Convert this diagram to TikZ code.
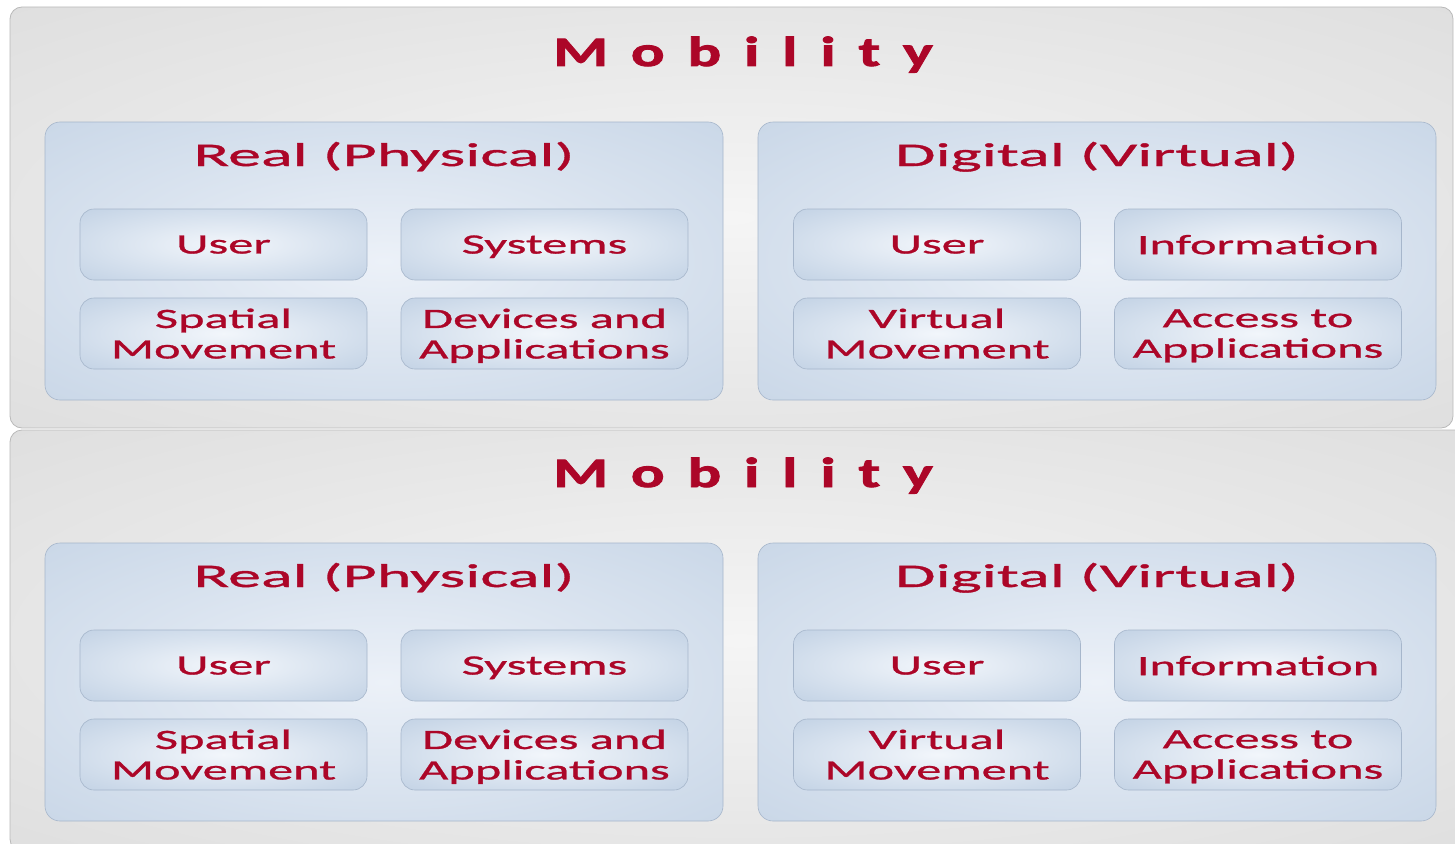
\documentclass[tikz,border=0pt]{standalone}
\usepackage{fontspec}
\usepackage{tikz}
\usetikzlibrary{shapes}

\setmainfont{Carlito}
\newfontfamily\mobfont{Carlito}[FakeStretch=1.5,LetterSpace=54,FakeBold=2]
\newfontfamily\panfont{Carlito}[FakeStretch=2.0,FakeBold=1]
\newfontfamily\boxfont{Carlito}[FakeStretch=1.8,FakeBold=1]

\definecolor{mobred}{RGB}{172,6,40}
\definecolor{greyin}{RGB}{245,245,245}
\definecolor{greyout}{RGB}{214,214,214}
\definecolor{bluein}{RGB}{236,241,248}
\definecolor{blueout}{RGB}{188,205,225}
\definecolor{boxin}{RGB}{242,246,251}
\definecolor{boxout}{RGB}{189,206,226}
\definecolor{greyline}{RGB}{185,185,185}
\definecolor{blueline}{RGB}{166,182,203}

\pgfdeclareradialshading{greyglow}{\pgfpoint{0bp}{0bp}}{color(0bp)=(greyin); color(50bp)=(greyout)}
\pgfdeclareradialshading{blueglow}{\pgfpoint{0bp}{0bp}}{color(0bp)=(bluein); color(50bp)=(blueout)}
\pgfdeclareradialshading{boxglow}{\pgfpoint{0bp}{0bp}}{color(0bp)=(boxin); color(40bp)=(boxout)}

\begin{document}
\begin{tikzpicture}[x=1pt,y=-1pt]
	\tikzstyle{fond}=[rectangle,draw=greyline,line width=0.8pt,rounded corners=12pt,
	shading=greyglow,minimum width=1443pt,minimum height=421pt,inner sep=0pt]
	\tikzstyle{volet}=[rectangle,draw=blueline,line width=0.6pt,rounded corners=15pt,
	shading=blueglow,minimum width=678pt,minimum height=278pt,inner sep=0pt]
	\tikzstyle{case}=[rectangle,draw=blueline,line width=0.6pt,rounded corners=14pt,
	shading=boxglow,minimum width=287pt,minimum height=71pt,inner sep=0pt,
	text depth=0pt,align=center,text=mobred,font=\boxfont\fontsize{28}{30.5}\selectfont]
	\tikzstyle{titre}=[anchor=base,text=mobred,inner sep=0pt,
	font=\mobfont\bfseries\fontsize{42}{44}\selectfont]
	\tikzstyle{soustitre}=[anchor=base,text=mobred,inner sep=0pt,
	font=\panfont\fontsize{33}{36}\selectfont]

	\useasboundingbox (0,0) rectangle (1455,843);
	\clip (0,0) rectangle (1455,843);

	% premier bloc
	\node[fond] (f1) at (731.5,217.5) {};
	\node[titre] (t1) at (743,66) {Mobility};
	\node[volet] (r1) at (384,261) {};
	\node[soustitre] (rt1) at (384,166) {Real (Physical)};
	\node[volet] (d1) at (1097,261) {};
	\node[soustitre] (dt1) at (1097,166) {Digital (Virtual)};
	\node[case] (r1a) at (223.5,244.5) {User};
	\node[case] (r1b) at (544.5,244.5) {Systems};
	\node[case] (r1c) at (223.5,333.5) {Spatial\\Movement};
	\node[case] (r1d) at (544.5,333.5) {Devices and\\Applications};
	\node[case] (d1a) at (937,244.5) {User};
	\node[case] (d1b) at (1258,244.5) {Information};
	\node[case] (d1c) at (937,333.5) {Virtual\\Movement};
	\node[case] (d1d) at (1258,333.5) {Access to\\Applications};

	% second bloc
	\node[fond,minimum width=1460pt] (f2) at (740,640.5) {};
	\node[titre] (t2) at (743,487) {Mobility};
	\node[volet] (r2) at (384,682) {};
	\node[soustitre] (rt2) at (384,587) {Real (Physical)};
	\node[volet] (d2) at (1097,682) {};
	\node[soustitre] (dt2) at (1097,587) {Digital (Virtual)};
	\node[case] (r2a) at (223.5,665.5) {User};
	\node[case] (r2b) at (544.5,665.5) {Systems};
	\node[case] (r2c) at (223.5,754.5) {Spatial\\Movement};
	\node[case] (r2d) at (544.5,754.5) {Devices and\\Applications};
	\node[case] (d2a) at (937,665.5) {User};
	\node[case] (d2b) at (1258,665.5) {Information};
	\node[case] (d2c) at (937,754.5) {Virtual\\Movement};
	\node[case] (d2d) at (1258,754.5) {Access to\\Applications};
\end{tikzpicture}
\end{document}
